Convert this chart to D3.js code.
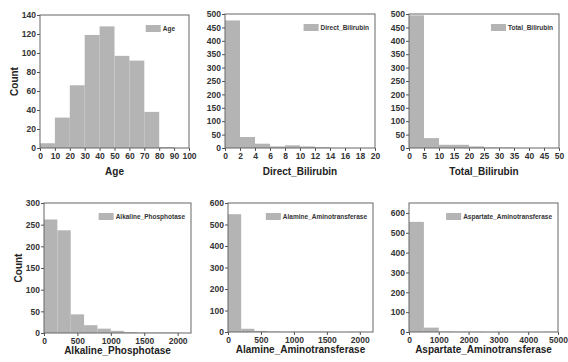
<!DOCTYPE html>
<html>
<head>
<meta charset="utf-8">
<script src="https://cdn.jsdelivr.net/npm/d3@7"></script>
<style>
  body { margin: 0; background: #fff; }
  svg { display: block; font-family: "Liberation Sans", Arial, sans-serif; }
  .tick text { font-size: 8.5px; font-weight: bold; fill: #333; }
  .tick line { stroke: #555; }
  .domain { display: none; }
</style>
</head>
<body>
<svg id="chart" width="568" height="362"></svg>
<script>
// histogram bin edges and counts
const ageBins = [0, 10, 20, 30, 40, 50, 60, 70, 80, 90, 100];
const ageCounts = [5, 32, 66, 119, 128, 97, 92, 38, 1, 0];

const directBins = [0, 2, 4, 6, 8, 10, 12, 14, 16, 18, 20];
const directCounts = [476, 41, 16, 6, 10, 6, 3, 0, 0, 0];

const totalBins = [0, 5, 10, 15, 20, 25, 30, 35, 40, 45, 50];
const totalCounts = [495, 37, 12, 12, 6, 2, 2, 0, 0, 0];

const alkBins = [0, 200, 400, 600, 800, 1000, 1200, 1400, 1600, 1800, 2000, 2200];
const alkCounts = [262, 237, 43, 18, 10, 5, 2, 1, 1, 1, 0];

const alamineBins = [0, 200, 400, 600, 800, 1000, 1200, 1400, 1600, 1800, 2000, 2200];
const alamineCounts = [548, 15, 5, 2, 1, 1, 1, 1, 0, 1, 0];

const aspartateBins = [0, 500, 1000, 1500, 2000, 2500, 3000, 3500, 4000, 4500, 5000];
const aspartateCounts = [555, 22, 2, 1, 1, 0, 0, 0, 0, 1];

// tick labels
const ageXTicks = [0, 10, 20, 30, 40, 50, 60, 70, 80, 90, 100];
const ageYTicks = [0, 20, 40, 60, 80, 100, 120, 140];
const directXTicks = [0, 2, 4, 6, 8, 10, 12, 14, 16, 18, 20];
const totalXTicks = [0, 5, 10, 15, 20, 25, 30, 35, 40, 45, 50];
const biliYTicks = [0, 50, 100, 150, 200, 250, 300, 350, 400, 450, 500];
const enzXTicks = [0, 500, 1000, 1500, 2000];
const alkYTicks = [0, 50, 100, 150, 200, 250, 300];
const aminoYTicks = [0, 100, 200, 300, 400, 500, 600];
const aspXTicks = [0, 1000, 2000, 3000, 4000, 5000];

const panels = [
  { name: "Age", bins: ageBins, counts: ageCounts, xTicks: ageXTicks, yTicks: ageYTicks,
    xMax: 100, yMax: 140, box: [40, 189, 15, 148], count: true },
  { name: "Direct_Bilirubin", bins: directBins, counts: directCounts, xTicks: directXTicks, yTicks: biliYTicks,
    xMax: 20, yMax: 500, box: [225, 375, 14, 148] },
  { name: "Total_Bilirubin", bins: totalBins, counts: totalCounts, xTicks: totalXTicks, yTicks: biliYTicks,
    xMax: 50, yMax: 500, box: [409, 559, 14, 148] },
  { name: "Alkaline_Phosphotase", bins: alkBins, counts: alkCounts, xTicks: enzXTicks, yTicks: alkYTicks,
    xMax: 2200, yMax: 300, box: [44, 191, 203, 333], count: true },
  { name: "Alamine_Aminotransferase", bins: alamineBins, counts: alamineCounts, xTicks: enzXTicks, yTicks: aminoYTicks,
    xMax: 2200, yMax: 600, box: [228, 373, 203, 332] },
  { name: "Aspartate_Aminotransferase", bins: aspartateBins, counts: aspartateCounts, xTicks: aspXTicks, yTicks: aminoYTicks,
    xMax: 5000, yMax: 650, box: [409, 558, 203, 332] }
];

const svg = d3.select("#chart");
const fmt = d3.format("d");

panels.forEach(p => {
  const [x0, x1, y0, y1] = p.box;
  const x = d3.scaleLinear().domain([0, p.xMax]).range([x0, x1]);
  const y = d3.scaleLinear().domain([0, p.yMax]).range([y1, y0]);
  const g = svg.append("g");

  const bins = p.counts.map((c, i) => ({ a: p.bins[i], b: p.bins[i + 1], c: c }));
  g.selectAll("rect.bar")
    .data(bins)
    .enter()
    .append("rect")
    .attr("class", "bar")
    .attr("x", d => x(d.a))
    .attr("width", d => x(d.b) - x(d.a))
    .attr("y", d => y(d.c))
    .attr("height", d => y(0) - y(d.c))
    .attr("fill", "#b4b4b4");

  // frame
  g.append("rect")
    .attr("x", x0).attr("y", y0)
    .attr("width", x1 - x0).attr("height", y1 - y0)
    .attr("fill", "none")
    .attr("stroke", "#666")
    .attr("stroke-width", 1);

  g.append("g")
    .attr("transform", "translate(0," + y1 + ")")
    .call(d3.axisBottom(x).tickValues(p.xTicks).tickFormat(fmt).tickSize(3).tickPadding(2));

  g.append("g")
    .attr("transform", "translate(" + x0 + ",0)")
    .call(d3.axisLeft(y).tickValues(p.yTicks).tickFormat(fmt).tickSize(3).tickPadding(1));

  g.append("text")
    .attr("x", (x0 + x1) / 2)
    .attr("y", y1 + (y0 < 100 ? 27 : 21))
    .attr("text-anchor", "middle")
    .attr("font-size", "10px")
    .attr("font-weight", "bold")
    .attr("fill", "#222")
    .text(p.name);

  if (p.count) {
    g.append("text")
      .attr("transform", "translate(" + (x0 - 22) + "," + ((y0 + y1) / 2) + ") rotate(-90)")
      .attr("text-anchor", "middle")
      .attr("font-size", "10px")
      .attr("font-weight", "bold")
      .attr("fill", "#222")
      .text("Count");
  }

  // legend
  const lt = g.append("text")
    .attr("x", x1 - (p.name === "Age" ? 14 : 6))
    .attr("y", y0 + 16)
    .attr("text-anchor", "end")
    .attr("font-size", "6.5px")
    .attr("font-weight", "bold")
    .attr("fill", "#333")
    .text(p.name);
  const tw = lt.node().getComputedTextLength();
  g.append("rect")
    .attr("x", x1 - (p.name === "Age" ? 14 : 6) - tw - 17)
    .attr("y", y0 + 10)
    .attr("width", 15)
    .attr("height", 7)
    .attr("fill", "#b4b4b4");
});
</script>
</body>
</html>
